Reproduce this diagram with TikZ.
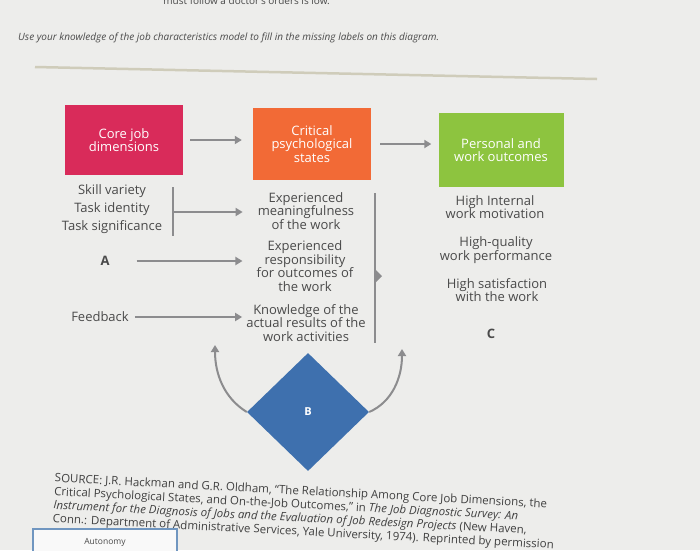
\documentclass[tikz,border=0pt]{standalone}
\usepackage{fontspec}
\setmainfont{Open Sans}
\usepackage{xcolor}
\usetikzlibrary{arrows.meta,shapes.geometric}
\definecolor{corered}{HTML}{D92B5A}
\definecolor{critorange}{HTML}{F26A36}
\definecolor{outgreen}{HTML}{8DC43F}
\definecolor{diamblue}{HTML}{3E70AE}
\definecolor{arrgray}{HTML}{8C8C8E}
\definecolor{txtgray}{HTML}{4A4A4A}
\definecolor{screen}{HTML}{EDEDEB}
\definecolor{rulebeige}{HTML}{CFCCBA}
\definecolor{boxblue}{HTML}{7096C0}

\begin{document}
\begin{tikzpicture}[x=1pt,y=-1pt,
    every node/.style={inner sep=0pt,text=txtgray,font=\fontsize{13}{13.5}\selectfont},
    hdr/.style={fill=#1,text=white,align=center},
    item/.style={align=center},
    letter/.style={font=\bfseries\fontsize{13}{13}\selectfont},
    arr/.style={draw=arrgray,line width=2pt,-{Triangle[length=7pt,width=8pt]}},
    bar/.style={draw=arrgray,line width=2pt}]
  \fill[screen] (0,0) rectangle (700,550);
  \useasboundingbox (0,0) rectangle (700,550);

  % question text
  \node[anchor=base east,font=\fontsize{10}{11}\selectfont] (cut) at (330,4)
    {must follow a doctor's orders is low.};
  \node[anchor=base west,font=\itshape\fontsize{10}{11}\selectfont] (ask) at (18,40)
    {Use your knowledge of the job characteristics model to fill in the missing labels on this diagram.};
  \draw[rulebeige,line width=2.5pt] (35,67) -- (597,79);

  % header boxes
  \node[hdr=corered,minimum width=118pt,minimum height=70pt] (core) at (124,140)
    {Core job\\dimensions};
  \node[hdr=critorange,minimum width=118pt,minimum height=72pt] (crit) at (312,144)
    {Critical\\psychological\\states};
  \node[hdr=outgreen,minimum width=125pt,minimum height=74pt] (out) at (501,150)
    {Personal and\\work outcomes};
  \draw[arr,shorten <=7pt,shorten >=11pt] (core.east) -- (core.east -| crit.west);
  \draw[arr,shorten <=9pt,shorten >=7pt] (crit.east) -- (crit.east -| out.west);

  % core job dimensions
  \node[item,font=\fontsize{13}{18}\selectfont] (skill) at (112,209)
    {Skill variety\\Task identity\\Task significance};
  \node[letter] (A) at (105,261) {A};
  \node (fb) at (100,317) {Feedback};

  % critical states
  \node[item] (mean) at (306,211) {Experienced\\meaningfulness\\of the work};
  \node[item] (resp) at (305,266) {Experienced\\responsibility\\for outcomes of\\the work};
  \node[item] (know) at (306,323) {Knowledge of the\\actual results of the\\work activities};

  \coordinate (brktop) at (173,187);
  \coordinate (brkbot) at (173,236);
  \coordinate (brk) at (173,212);
  \draw[bar] (brktop) -- (brkbot);
  \draw[arr,shorten >=15pt] (brk) -- (brk -| mean.west);
  \draw[arr,shorten <=27pt,shorten >=14pt] (A.east) -- (A.east -| resp.west);
  \draw[arr,shorten <=6pt,shorten >=4pt] (fb.east) -- (fb.east -| know.west);

  \coordinate (bartop) at (375,193);
  \coordinate (barbot) at (375,343);
  \coordinate (barmid) at (375,262);
  \draw[bar] (bartop) -- (barbot);
  \fill[arrgray] ([yshift=-7pt]barmid) -- ++(7,7) -- ++(-7,7) -- cycle;

  % outcomes
  \node[item] (motiv) at (495,207) {High Internal\\work motivation};
  \node[item] (perf) at (496,250) {High-quality\\work performance};
  \node[item] (satis) at (497,290) {High satisfaction\\with the work};
  \node[letter] (C) at (491,334) {C};

  % moderators
  \node[diamond,fill=diamblue,minimum width=122pt,minimum height=118pt,
    text=white,font=\bfseries\fontsize{11}{13}\selectfont] (B) at (308,412) {B};
  \coordinate (upL) at (215,345);
  \coordinate (upR) at (402,349);
  \draw[arr] (B.west) .. controls (224,398) and (215,374) .. (upL);
  \draw[arr] (B.east) .. controls (392,402) and (402,378) .. (upR);

  % source
  \node[anchor=north west,align=left,rotate=-3,text=black!75,
    font=\fontsize{11.5}{13.5}\selectfont] (src) at (55,473)
    {SOURCE: J.R. Hackman and G.R. Oldham, ``The Relationship Among Core Job Dimensions, the\\
     Critical Psychological States, and On-the-Job Outcomes,'' in \textit{The Job Diagnostic Survey: An}\\
     \textit{Instrument for the Diagnosis of Jobs and the Evaluation of Job Redesign Projects} (New Haven,\\
     Conn.: Department of Administrative Services, Yale University, 1974). Reprinted by permission};

  % answer box
  \node[draw=boxblue,line width=2pt,fill=gray!5,minimum width=144pt,minimum height=34pt,
    anchor=north west] (ans) at (32,528) {};
  \node[font=\fontsize{8.5}{9}\selectfont] (auto) at (105,542) {Autonomy};
\end{tikzpicture}
\end{document}
